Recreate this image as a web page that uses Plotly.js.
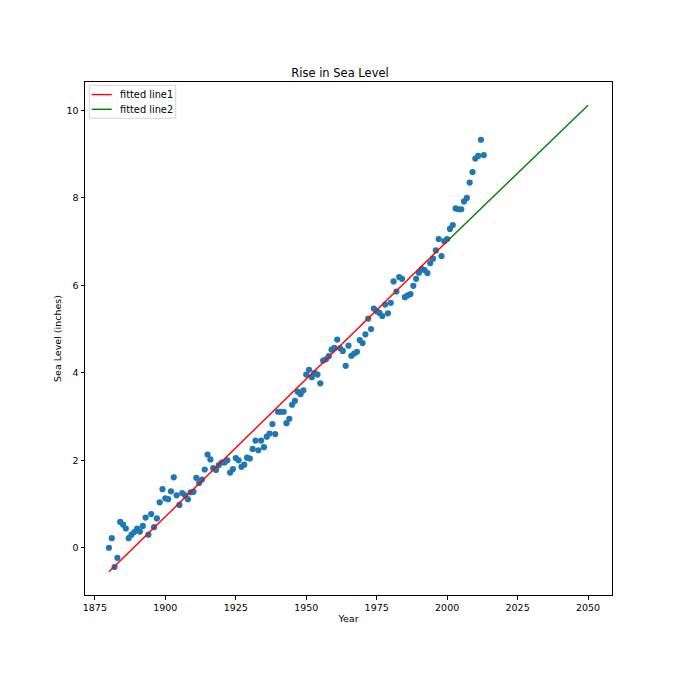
<!DOCTYPE html>
<html>
<head>
<meta charset="utf-8">
<script src="https://cdn.plot.ly/plotly-3.0.1.min.js"></script>
<style>
  html, body { margin: 0; padding: 0; background: #fff; }
  #chart { width: 680px; height: 680px; }
</style>
</head>
<body>
<div id="chart"></div>
<script>
'use strict';

// CSIRO adjusted sea level, 1880 - 2013
const years = [];
for (let y = 1880; y <= 2013; y++) years.push(y);

const seaLevel = [
	0.00, 0.22, -0.44, -0.23, 0.59, 0.53, 0.44, 0.22, 0.30, 0.36,
	0.44, 0.37, 0.50, 0.69, 0.30, 0.77, 0.47, 0.67, 1.04, 1.34,
	1.13, 1.11, 1.29, 1.61, 1.20, 0.98, 1.25, 1.20, 1.11, 1.27,
	1.28, 1.60, 1.48, 1.56, 1.79, 2.13, 2.02, 1.82, 1.78, 1.89,
	1.95, 1.95, 2.00, 1.72, 1.80, 2.05, 2.00, 1.85, 1.90, 2.06,
	2.04, 2.26, 2.45, 2.23, 2.45, 2.30, 2.54, 2.61, 2.83, 2.60,
	3.11, 3.11, 3.11, 2.85, 2.95, 3.27, 3.36, 3.57, 3.51, 3.60,
	3.96, 4.07, 3.90, 4.00, 3.96, 3.76, 4.28, 4.31, 4.38, 4.53,
	4.57, 4.76, 4.56, 4.50, 4.16, 4.62, 4.39, 4.44, 4.48, 4.75,
	4.68, 4.88, 5.24, 5.00, 5.47, 5.41, 5.37, 5.30, 5.56, 5.36,
	5.60, 6.09, 5.86, 6.19, 6.15, 5.73, 5.77, 5.80, 5.99, 6.15,
	6.29, 6.37, 6.35, 6.28, 6.51, 6.61, 6.80, 7.06, 6.67, 7.01,
	7.06, 7.29, 7.38, 7.76, 7.74, 7.74, 7.92, 8.00, 8.35, 8.59,
	8.90, 8.96, 9.33, 8.98
];

// fitted line end points
const line1Years = [1880, 2000];
const line1Values = [-0.55, 7.01];
const line2Years = [2000, 2050];
const line2Values = [7.01, 10.12];

const font = 'DejaVu Sans, sans-serif';

const traces = [
	{
		x: years,
		y: seaLevel,
		type: 'scatter',
		mode: 'markers',
		marker: { color: '#1f77b4', size: 6.2 },
		name: 'data'
	},
	{
		x: line1Years,
		y: line1Values,
		type: 'scatter',
		mode: 'lines',
		name: 'fitted line1',
		line: { color: 'red', width: 1.4 }
	},
	{
		x: line2Years,
		y: line2Values,
		type: 'scatter',
		mode: 'lines',
		name: 'fitted line2',
		line: { color: 'green', width: 1.4 }
	}
];

// matplotlib style legend box (plotly's own rows are too tall)
const legendRows = [0.9755, 0.9468];
const shapes = [{
	type: 'rect', xref: 'paper', yref: 'paper',
	x0: 0.0083, x1: 0.1721, y0: 0.9293, y1: 0.9936,
	line: { color: '#d4d4d4', width: 1 },
	fillcolor: 'rgba(255,255,255,0.8)'
}];
const annotations = [];
[traces[1], traces[2]].forEach(function(tr, i) {
	shapes.push({
		type: 'line', xref: 'paper', yref: 'paper',
		x0: 0.0127, x1: 0.0507, y0: legendRows[i], y1: legendRows[i],
		line: { color: tr.line.color, width: 1.4 }
	});
	annotations.push({
		xref: 'paper', yref: 'paper',
		x: 0.062, y: legendRows[i],
		xanchor: 'left', yanchor: 'middle',
		text: tr.name, showarrow: false,
		font: { family: font, size: 9.8, color: '#000' }
	});
});

const axisBase = {
	showline: true,
	mirror: true,
	linecolor: '#000',
	linewidth: 1,
	showgrid: false,
	zeroline: false,
	ticks: 'outside',
	ticklen: 3.5,
	tickwidth: 1,
	tickcolor: '#000',
	tickfont: { family: font, size: 9.5, color: '#000' }
};

const layout = {
	width: 680,
	height: 680,
	margin: { l: 85, r: 68, t: 82, b: 85 },
	paper_bgcolor: '#fff',
	plot_bgcolor: '#fff',
	font: { family: font, color: '#000' },
	showlegend: false,
	title: {
		text: 'Rise in Sea Level',
		font: { family: font, size: 11.5, color: '#000' },
		x: 0.5,
		xanchor: 'center',
		yref: 'paper',
		y: 1,
		yanchor: 'bottom',
		pad: { b: 5 }
	},
	xaxis: Object.assign({}, axisBase, {
		range: [1871.5, 2058.5],
		tickvals: [1875, 1900, 1925, 1950, 1975, 2000, 2025, 2050],
		title: { text: 'Year', font: { family: font, size: 9.5, color: '#000' }, standoff: 3 }
	}),
	yaxis: Object.assign({}, axisBase, {
		range: [-1.08, 10.65],
		tickvals: [0, 2, 4, 6, 8, 10],
		title: { text: 'Sea Level (inches)', font: { family: font, size: 9.5, color: '#000' }, standoff: 3 }
	}),
	shapes: shapes,
	annotations: annotations
};

Plotly.newPlot('chart', traces, layout, { displayModeBar: false, staticPlot: true });
</script>
</body>
</html>
